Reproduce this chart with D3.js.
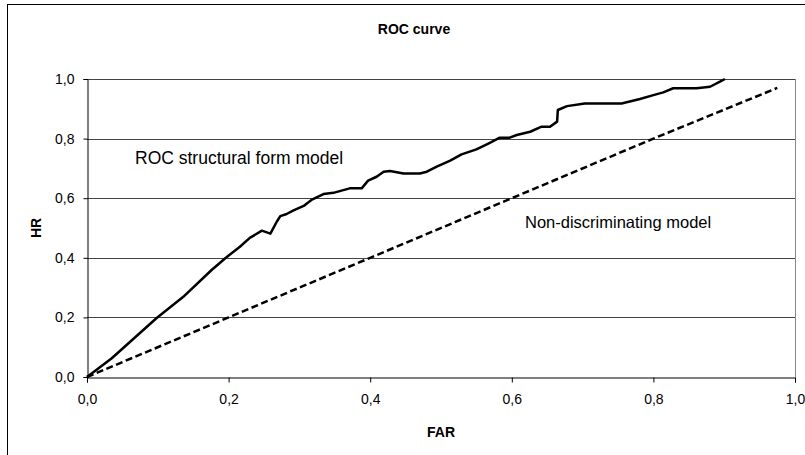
<!DOCTYPE html>
<html>
<head>
<meta charset="utf-8">
<script src="https://cdn.jsdelivr.net/npm/d3@7"></script>
<style>
    body { margin: 0; background: #fff; }
    svg { display: block; font-family: Arial, "Liberation Sans", sans-serif; }
    .grid line { stroke: #444; stroke-width: 1; }
    .axis path, .axis line { stroke: #000; }
    .axis text { font-size: 14px; fill: #000; }
</style>
</head>
<body>
<div id="chart"></div>
<script>
const rocFar = [0, 0.035, 0.098, 0.136, 0.176, 0.197, 0.216, 0.230, 0.247, 0.259, 0.268, 0.273, 0.282,
    0.291, 0.306, 0.317, 0.334, 0.348, 0.371, 0.388, 0.397, 0.409, 0.419, 0.428, 0.447, 0.470, 0.480,
    0.494, 0.513, 0.529, 0.550, 0.569, 0.583, 0.597, 0.607, 0.626, 0.642, 0.654, 0.664, 0.665, 0.678,
    0.703, 0.755, 0.781, 0.800, 0.814, 0.828, 0.861, 0.880, 0.894, 0.901];
const rocHr = [0, 0.063, 0.197, 0.269, 0.359, 0.402, 0.437, 0.467, 0.491, 0.481, 0.521, 0.540, 0.547,
    0.558, 0.574, 0.594, 0.614, 0.618, 0.633, 0.633, 0.659, 0.672, 0.689, 0.691, 0.683, 0.683, 0.689,
    0.706, 0.726, 0.747, 0.764, 0.786, 0.803, 0.803, 0.812, 0.823, 0.840, 0.840, 0.857, 0.896, 0.909,
    0.918, 0.918, 0.933, 0.946, 0.955, 0.969, 0.969, 0.974, 0.991, 1.0];

const diagFar = [0, 0.2, 0.4, 0.6, 0.8, 0.975];
const diagHr = [0, 0.2, 0.4, 0.6, 0.8, 0.97];

const tickValues = [0, 0.2, 0.4, 0.6, 0.8, 1.0];
const tickLabels = ['0,0', '0,2', '0,4', '0,6', '0,8', '1,0'];

const width = 805;
const height = 455;
const margin = { top: 79, right: 10, bottom: 78, left: 87 };

const svg = d3.select('#chart')
    .append('svg')
    .attr('width', width)
    .attr('height', height);

// chart frame (runs off the right / bottom edge like the original)
svg.append('rect')
    .attr('x', 7.5)
    .attr('y', 4.5)
    .attr('width', 830)
    .attr('height', 470)
    .attr('fill', 'none')
    .attr('stroke', '#000')
    .attr('stroke-width', 1);

const x = d3.scaleLinear().domain([0, 1]).range([margin.left, width - margin.right]);
const y = d3.scaleLinear().domain([0, 1]).range([height - margin.bottom, margin.top]);

// gridlines
svg.append('g')
    .attr('class', 'grid')
    .selectAll('line')
    .data(tickValues.slice(1))
    .join('line')
    .attr('x1', x(0))
    .attr('x2', x(1))
    .attr('y1', d => Math.round(y(d)) + 0.5)
    .attr('y2', d => Math.round(y(d)) + 0.5);

// plot area right border
svg.append('line')
    .attr('x1', Math.round(x(1)) + 0.5)
    .attr('x2', Math.round(x(1)) + 0.5)
    .attr('y1', y(1))
    .attr('y2', y(0))
    .attr('stroke', '#888');

const fmt = d => tickLabels[tickValues.indexOf(d)];

svg.append('g')
    .attr('class', 'axis')
    .attr('transform', `translate(0,${Math.round(y(0)) + 0.5})`)
    .call(d3.axisBottom(x).tickValues(tickValues).tickFormat(fmt).tickSizeOuter(0).tickSize(5).tickPadding(12));

svg.append('g')
    .attr('class', 'axis')
    .attr('transform', `translate(${Math.round(x(0)) + 0.5},0)`)
    .call(d3.axisLeft(y).tickValues(tickValues).tickFormat(fmt).tickSizeOuter(0).tickSize(4).tickPadding(9));

// diagonal
const diag = diagFar.map((v, i) => [v, diagHr[i]]);
svg.append('path')
    .datum(diag)
    .attr('fill', 'none')
    .attr('stroke', '#000')
    .attr('stroke-width', 2.5)
    .attr('stroke-dasharray', '7,3.5')
    .attr('d', d3.line().x(d => x(d[0])).y(d => y(d[1])));

// ROC curve
const roc = rocFar.map((v, i) => [v, rocHr[i]]);
svg.append('path')
    .datum(roc)
    .attr('fill', 'none')
    .attr('stroke', '#000')
    .attr('stroke-width', 2.5)
    .attr('stroke-linejoin', 'round')
    .attr('d', d3.line().x(d => x(d[0])).y(d => y(d[1])));

// texts
svg.append('text')
    .attr('x', 414)
    .attr('y', 34)
    .attr('text-anchor', 'middle')
    .attr('font-weight', 'bold')
    .attr('font-size', 14)
    .text('ROC curve');

svg.append('text')
    .attr('x', x(0.5))
    .attr('y', 437)
    .attr('text-anchor', 'middle')
    .attr('font-weight', 'bold')
    .attr('font-size', 14)
    .text('FAR');

svg.append('text')
    .attr('transform', `translate(41,${(y(0) + y(1)) / 2}) rotate(-90)`)
    .attr('text-anchor', 'middle')
    .attr('font-weight', 'bold')
    .attr('font-size', 14)
    .text('HR');

svg.append('text')
    .attr('x', 135)
    .attr('y', 164)
    .attr('font-size', 17.5)
    .text('ROC structural form model');

svg.append('text')
    .attr('x', 525)
    .attr('y', 228)
    .attr('font-size', 16.5)
    .text('Non-discriminating model');
</script>
</body>
</html>
